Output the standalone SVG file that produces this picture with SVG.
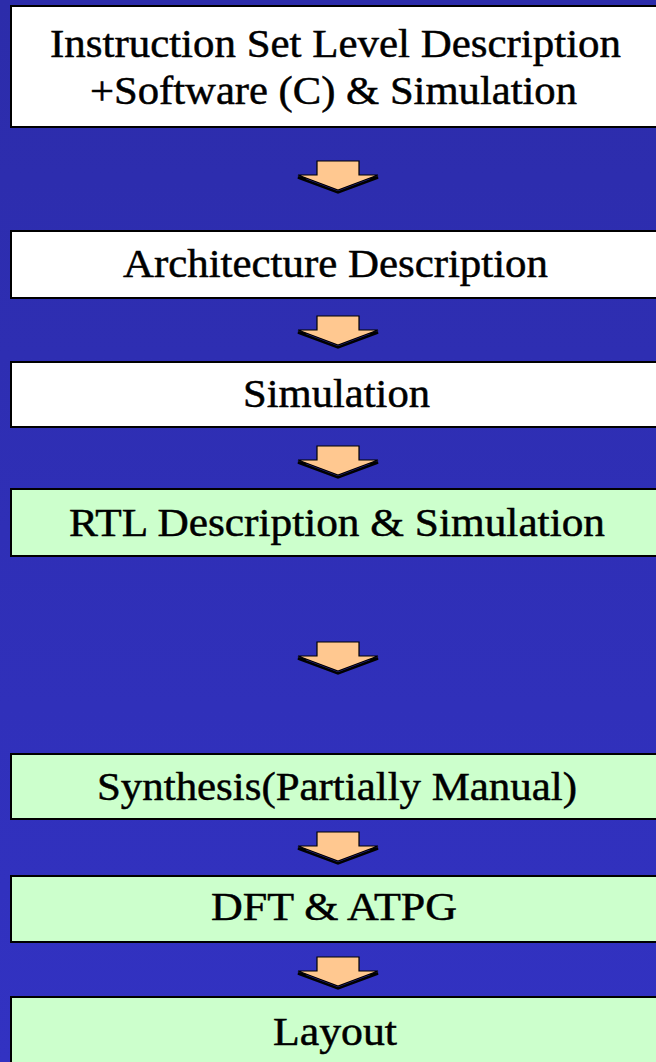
<svg xmlns="http://www.w3.org/2000/svg" width="656" height="1062" viewBox="0 0 656 1062">
  <defs>
    <linearGradient id="bg" x1="0" y1="0" x2="0" y2="1">
      <stop offset="0" stop-color="#2C2CAA"/>
      <stop offset="1" stop-color="#3232C2"/>
    </linearGradient>
    <style>
      .box { stroke: #000; stroke-width: 2; }
      .white { fill: #FFFFFF; }
      .green { fill: #CCFFCC; }
      .label { font-family: 'Liberation Serif', 'Times New Roman', 'DejaVu Serif', serif; font-size: 41px; fill: #000; stroke: #000; stroke-width: 0.5; }
      .arrow { fill: #FFC890; stroke: #000; stroke-width: 1.2; stroke-linejoin: miter; }
    </style>
    <!-- block arrow pointing down, origin at its top centre -->
    <g id="down">
      <path d="M-18,15 L-40,15 L0,30 L40,15 L18,15" fill="none" stroke="#000" stroke-width="2.5" transform="translate(0,1.5)"/>
      <path class="arrow" d="M-21,0 H21 V14 H40 L0,29 L-40,14 H-21 Z"/>
    </g>
  </defs>

  <rect width="656" height="1062" fill="url(#bg)"/>

  <g id="isl">
    <rect class="box white" x="11" y="6" width="660" height="121"/>
    <text class="label" x="50" y="57" textLength="571" lengthAdjust="spacingAndGlyphs">Instruction Set Level Description</text>
    <text class="label" x="90" y="104" textLength="487" lengthAdjust="spacingAndGlyphs">+Software (C) &amp; Simulation</text>
  </g>

  <g id="arch">
    <rect class="box white" x="11" y="231" width="660" height="67"/>
    <text class="label" x="123" y="277" textLength="425" lengthAdjust="spacingAndGlyphs">Architecture Description</text>
  </g>

  <g id="sim">
    <rect class="box white" x="11" y="362" width="660" height="65"/>
    <text class="label" x="243" y="407" textLength="187" lengthAdjust="spacingAndGlyphs">Simulation</text>
  </g>

  <g id="rtl">
    <rect class="box green" x="11" y="489" width="660" height="67"/>
    <text class="label" x="69" y="536" textLength="536" lengthAdjust="spacingAndGlyphs">RTL Description &amp; Simulation</text>
  </g>

  <g id="synth">
    <rect class="box green" x="11" y="754" width="660" height="65"/>
    <text class="label" x="97" y="800" textLength="480" lengthAdjust="spacingAndGlyphs">Synthesis(Partially Manual)</text>
  </g>

  <g id="dft">
    <rect class="box green" x="11" y="876" width="660" height="66"/>
    <text class="label" x="211" y="920" textLength="246" lengthAdjust="spacingAndGlyphs">DFT &amp; ATPG</text>
  </g>

  <g id="layout">
    <rect class="box green" x="11" y="997" width="660" height="80"/>
    <text class="label" x="273" y="1045" textLength="124" lengthAdjust="spacingAndGlyphs">Layout</text>
  </g>

  <g id="connectors">
    <use href="#down" x="338" y="161"/>
    <use href="#down" x="338" y="316"/>
    <use href="#down" x="338" y="446"/>
    <use href="#down" x="338" y="642"/>
    <use href="#down" x="338" y="832"/>
    <use href="#down" x="338" y="957"/>
  </g>
</svg>
